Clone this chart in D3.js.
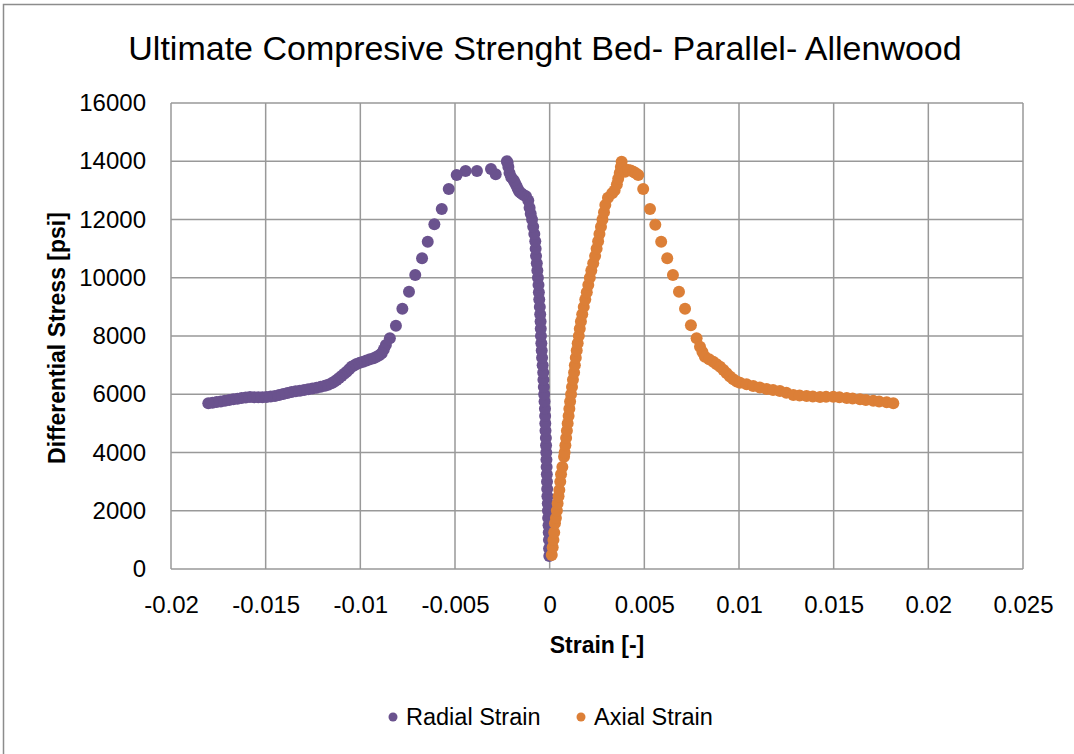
<!DOCTYPE html>
<html>
<head>
<meta charset="utf-8">
<script src="https://cdnjs.cloudflare.com/ajax/libs/d3/7.8.5/d3.min.js"></script>
<style>
  html, body { margin: 0; background: #fff; overflow: hidden; }
  svg { display: block; }
</style>
</head>
<body>
<script>
/*
Data
*/
let title = 'Ultimate Compresive Strenght Bed- Parallel- Allenwood';
let xTicks = [-0.02, -0.015, -0.01, -0.005, 0, 0.005, 0.01, 0.015, 0.02, 0.025];
let xTickLabels = ['-0.02', '-0.015', '-0.01', '-0.005', '0', '0.005', '0.01', '0.015', '0.02', '0.025'];
let yTicks = [0, 2000, 4000, 6000, 8000, 10000, 12000, 14000, 16000];

// radial strain: loading branch (near zero), then the post-peak points out to the tail
let radialStrain = [
  -0.00002, -0.00003, -0.00004, -0.00005, -0.00006, -0.00008, -0.00009, -0.00010, -0.00012, -0.00013,
  -0.00014, -0.00015, -0.00016, -0.00017, -0.00018, -0.00019, -0.00020, -0.00022, -0.00023, -0.00024,
  -0.00025, -0.00027, -0.00029, -0.00031, -0.00033, -0.00034, -0.00037, -0.00040, -0.00042, -0.00044,
  -0.00046, -0.00047, -0.00048, -0.00050, -0.00052, -0.00055, -0.00057, -0.00059, -0.00062, -0.00065,
  -0.00068, -0.00072, -0.00074, -0.00076, -0.00081, -0.00087, -0.00093, -0.00100, -0.00106, -0.00113,
  -0.00125, -0.00140, -0.00150, -0.00160, -0.00168, -0.00175, -0.00183, -0.00190, -0.00203, -0.00212,
  -0.00218, -0.00222, -0.00226,
  -0.00285, -0.00310, -0.00384, -0.00444, -0.00491, -0.00533, -0.00570, -0.00609, -0.00644, -0.00674,
  -0.00710, -0.00743, -0.00778, -0.00812, -0.00844,
  -0.00865, -0.00876, -0.00887, -0.00900, -0.00914, -0.00930, -0.00949, -0.00967, -0.00985, -0.01003,
  -0.01020, -0.01033, -0.01046, -0.01059, -0.01072, -0.01085, -0.01099, -0.01112, -0.01125, -0.01138,
  -0.01152, -0.01170, -0.01187, -0.01209, -0.01231, -0.01253, -0.01275, -0.01297, -0.01319, -0.01341,
  -0.01363, -0.01385, -0.01407, -0.01429, -0.01451, -0.01473, -0.01495, -0.01517, -0.01539, -0.01561,
  -0.01583, -0.01605, -0.01627, -0.01649, -0.01671, -0.01693, -0.01715, -0.01737, -0.01759, -0.01781,
  -0.01803
];
let radialStress = [
  450, 700, 1000, 1250, 1500, 1750, 2000, 2250, 2500, 2750,
  3000, 3250, 3500, 3750, 4000, 4250, 4500, 4750, 5000, 5250,
  5500, 5750, 6000, 6250, 6500, 6750, 7000, 7250, 7500, 7750,
  8000, 8250, 8500, 8750, 9000, 9250, 9500, 9750, 10000, 10250,
  10500, 10750, 11000, 11250, 11500, 11750, 12000, 12200, 12400, 12650,
  12800, 12850, 12900, 12950, 13050, 13150, 13250, 13350, 13450, 13600,
  13800, 13950, 14000,
  13550, 13732, 13663, 13663, 13526, 13045, 12359, 11833, 11237, 10666,
  10093, 9520, 8937, 8353, 7920,
  7690, 7540, 7404, 7340, 7289, 7240, 7198, 7160, 7117, 7080,
  7038, 6990, 6945, 6860, 6773, 6700, 6626, 6555, 6488, 6430,
  6375, 6330, 6293, 6260, 6224, 6195, 6169, 6145, 6121, 6100,
  6076, 6040, 6008, 5970, 5939, 5920, 5905, 5900, 5894, 5900,
  5905, 5888, 5870, 5848, 5826, 5800, 5778, 5755, 5733, 5710,
  5688
];

// axial strain: loading branch, peak cluster, post-peak points and tail
let axialStrain = [
  0.00011, 0.00016, 0.00020, 0.00024, 0.00028, 0.00033, 0.00038, 0.00042, 0.00047, 0.00051,
  0.00056, 0.00060, 0.00067, 0.00076, 0.00079, 0.00083, 0.00087, 0.00091, 0.00095, 0.00100,
  0.00104, 0.00108, 0.00113, 0.00118, 0.00123, 0.00129, 0.00133, 0.00138, 0.00143, 0.00148,
  0.00154, 0.00159, 0.00165, 0.00172, 0.00180, 0.00188, 0.00196, 0.00204, 0.00212, 0.00220,
  0.00230, 0.00240, 0.00248, 0.00256, 0.00263, 0.00271, 0.00279, 0.00287, 0.00294, 0.00308,
  0.00330, 0.00343, 0.00355, 0.00362, 0.00370, 0.00376, 0.00380,
  0.00390, 0.00398, 0.00415, 0.00428, 0.00442, 0.00455, 0.00468,
  0.00494, 0.00530, 0.00558, 0.00589, 0.00621, 0.00651, 0.00683, 0.00715, 0.00746, 0.00776,
  0.00794,
  0.00807, 0.00820, 0.00842, 0.00864, 0.00882, 0.00900, 0.00918, 0.00935, 0.00952, 0.00970,
  0.00988, 0.01005, 0.01040, 0.01075, 0.01110, 0.01146, 0.01180, 0.01216, 0.01250, 0.01287,
  0.01320, 0.01357, 0.01390, 0.01428, 0.01460, 0.01498, 0.01530, 0.01569, 0.01600, 0.01639,
  0.01670, 0.01709, 0.01740, 0.01780, 0.01815
];
let axialStress = [
  481, 750, 1000, 1250, 1569, 1750, 2000, 2250, 2500, 2712,
  3000, 3250, 3500, 3855, 4000, 4250, 4500, 4750, 5000, 5250,
  5500, 5750, 6000, 6250, 6500, 6750, 7000, 7250, 7500, 7750,
  8000, 8250, 8500, 8750, 9000, 9250, 9500, 9750, 10000, 10250,
  10500, 10750, 11000, 11250, 11500, 11750, 12000, 12250, 12500, 12750,
  12900, 13000, 13200, 13400, 13600, 13800, 13983,
  13750, 13640, 13698, 13680, 13640, 13590, 13526,
  13045, 12359, 11820, 11237, 10666, 10093, 9520, 8937, 8366, 7920,
  7633,
  7450, 7289, 7200, 7117, 7030, 6945, 6830, 6718, 6610, 6512,
  6440, 6396, 6340, 6282, 6230, 6179, 6145, 6111, 6050, 5973,
  5955, 5939, 5920, 5905, 5910, 5916, 5895, 5870, 5850, 5826,
  5800, 5778, 5750, 5722, 5688
];

let seriesNames = ['Radial Strain', 'Axial Strain'];
let seriesColors = ['#6a528e', '#dc7f37'];

render();

function render() {

const width = 1074;
const height = 754;
const plot = {left: 171, right: 1023, top: 103, bottom: 569};
const font = "'Liberation Sans', Arial, sans-serif";

var svg = d3.select('body')
	.append('svg')
	.attr('width', width)
	.attr('height', height)
	.attr('viewBox', `0 0 ${width} ${height}`);

// outer chart frame (only top and left edges are in view)
svg.append('rect')
	.attr('x', 3.5)
	.attr('y', 4.5)
	.attr('width', width + 20)
	.attr('height', height + 20)
	.attr('fill', '#fff')
	.attr('stroke', '#8c8c8c')
	.attr('stroke-width', 1.5);

svg.append('text')
	.attr('x', 545)
	.attr('y', 60)
	.attr('text-anchor', 'middle')
	.attr('font-family', font)
	.attr('font-size', 34)
	.attr('fill', '#000')
	.text(title);

//Scales and Axes

let x = d3.scaleLinear()
	.domain([-0.02, 0.025])
	.range([plot.left, plot.right]);

let y = d3.scaleLinear()
	.domain([0, 16000])
	.range([plot.bottom, plot.top]);

let grid = svg.append('g')
	.attr('id', 'grid')
	.attr('stroke', '#999')
	.attr('stroke-width', 1.5);

grid.selectAll('.vline').data(xTicks)
	.enter()
		.append('line')
		.attr('class', 'vline')
		.attr('x1', d => x(d))
		.attr('x2', d => x(d))
		.attr('y1', plot.top)
		.attr('y2', plot.bottom);

grid.selectAll('.hline').data(yTicks)
	.enter()
		.append('line')
		.attr('class', 'hline')
		.attr('x1', plot.left)
		.attr('x2', plot.right)
		.attr('y1', d => y(d))
		.attr('y2', d => y(d));

let xAxis = svg.append('g')
	.attr('transform', `translate(0,${plot.bottom + 27})`)
	.call(d3.axisBottom(x)
		.tickValues(xTicks)
		.tickSize(0)
		.tickPadding(0)
		.tickFormat((d, i) => xTickLabels[i]))
	.call(g => g.select('.domain').remove());

xAxis.selectAll('text')
	.attr('dy', '0.71em')
	.attr('font-family', font)
	.attr('font-size', 24)
	.attr('fill', '#000');

let yAxis = svg.append('g')
	.attr('transform', `translate(${plot.left - 25},0)`)
	.call(d3.axisLeft(y)
		.tickValues(yTicks)
		.tickSize(0)
		.tickPadding(0)
		.tickFormat(d3.format('d')))
	.call(g => g.select('.domain').remove());

yAxis.selectAll('text')
	.attr('font-family', font)
	.attr('font-size', 24)
	.attr('fill', '#000');

svg.append('text')
	.attr('x', 597)
	.attr('y', 653)
	.attr('text-anchor', 'middle')
	.attr('font-family', font)
	.attr('font-weight', 'bold')
	.attr('font-size', 23)
	.attr('fill', '#000')
	.text('Strain [-]');

svg.append('text')
	.attr('transform', `translate(65,${(plot.top + plot.bottom) / 2 + 2}) rotate(-90)`)
	.attr('text-anchor', 'middle')
	.attr('font-family', font)
	.attr('font-weight', 'bold')
	.attr('font-size', 23)
	.attr('fill', '#000')
	.text('Differential Stress [psi]');

// points
let radialData = radialStrain.map((s, i) => ({strain: s, stress: radialStress[i]}));
let axialData = axialStrain.map((s, i) => ({strain: s, stress: axialStress[i]}));

[radialData, axialData].forEach((data, k) => {
	svg.append('g')
		.attr('fill', seriesColors[k])
		.selectAll('circle').data(data)
		.enter()
			.append('circle')
			.attr('cx', d => x(d.strain))
			.attr('cy', d => y(d.stress))
			.attr('r', 6);
});

// legend
let legendX = [393, 581];
let legend = svg.append('g')
	.attr('id', 'legend');

seriesNames.forEach((name, k) => {
	legend.append('circle')
		.attr('cx', legendX[k])
		.attr('cy', 717)
		.attr('r', 4.5)
		.attr('fill', seriesColors[k]);
	legend.append('text')
		.attr('x', legendX[k] + 13)
		.attr('y', 725)
		.attr('font-family', font)
		.attr('font-size', 23.5)
		.attr('fill', '#000')
		.text(name);
});

}
</script>
</body>
</html>
